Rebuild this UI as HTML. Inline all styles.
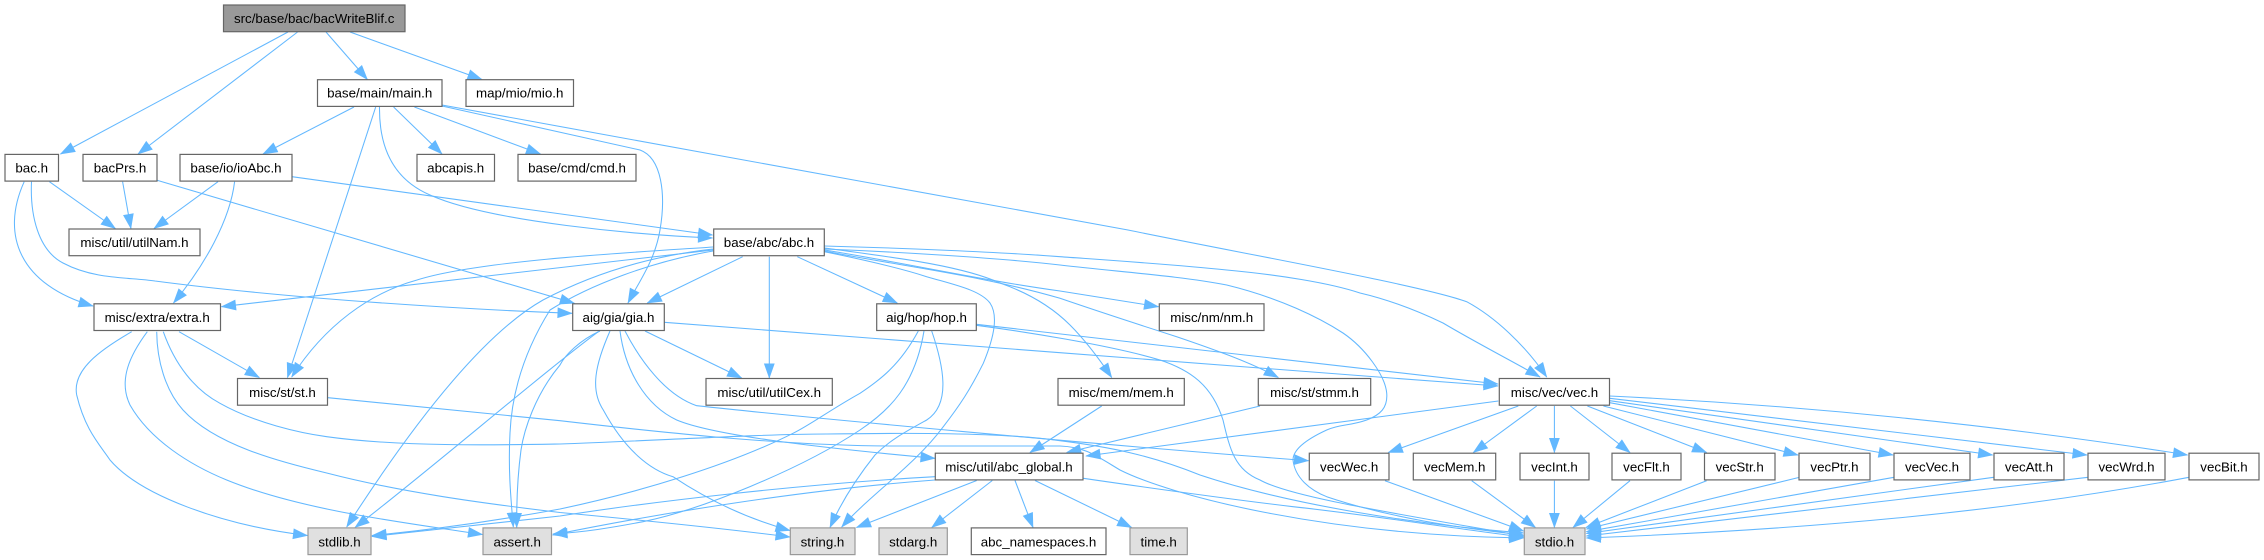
<!DOCTYPE html>
<html><head><meta charset="utf-8"><style>
html,body{margin:0;padding:0;background:#fff}
svg{display:block}
.e path{fill:none;stroke:#63b8ff;stroke-width:1.05;marker-end:url(#a)}
.n rect{fill:#fff;stroke:#666;stroke-width:1.2}
.s rect{fill:#e0e0e0;stroke:#999;stroke-width:1.2}
text{font-family:"Liberation Sans",Arial,sans-serif;font-size:13.33px;text-anchor:middle;fill:#000}
</style></head><body>
<svg width="2264" height="560" viewBox="0 0 2264 560" xmlns="http://www.w3.org/2000/svg">
<defs><marker id="a" markerUnits="userSpaceOnUse" markerWidth="18" markerHeight="14" refX="15" refY="7" orient="auto"><polygon points="1,2.3 14.3,7 1,11.7" fill="#63b8ff" stroke="#63b8ff" stroke-width="1"/></marker></defs>
<g class="e">
<path d="M288,32 L60.5,154"/>
<path d="M297.6,32 L138,154"/>
<path d="M326,32 L367.4,79.5"/>
<path d="M350,32 L482,79.5"/>
<path d="M354,107 L263,154"/>
<path d="M393.6,107 L442,154"/>
<path d="M414.4,107 L540.5,154"/>
<path d="M375.7,107 L287.5,377.5"/>
<path d="M379.5,107 C379,150 395,180 430,195 C490,222 640,235 712.5,238"/>
<path d="M442,106 L640,150 C662,158 666,195 660,230 C655,260 640,280 628,303"/>
<path d="M442,105 L1128,230 C1250,255 1420,285 1466.7,301.7 C1495,317 1525,345 1546.7,377"/>
<path d="M218,181.7 L154,228.5"/>
<path d="M234.6,181.7 C230,220 205,265 173.5,303"/>
<path d="M292,176.7 L712.5,235"/>
<path d="M49.4,181.7 L115.4,228.5"/>
<path d="M122.6,181.7 L130.9,228.5"/>
<path d="M157,180.3 L574.4,303.3"/>
<path d="M24.2,181.7 C0,235 20,285 93,306"/>
<path d="M31.5,181.7 C30,215 38,250 63,263 C95,280 130,277 155,281 C300,300 480,310 572,313.3"/>
<path d="M824.5,246 C900,248 1000,252 1060,256.7 C1120,261 1180,265 1226.7,270 C1280,275 1330,283 1360,293 C1390,300 1420,312 1443,323 C1475,342 1510,360 1540,377"/>
<path d="M824.5,249 C900,252 1000,258 1060,265 C1120,272 1180,276 1226.7,285 C1280,298 1320,318 1343,333 C1365,348 1385,375 1386.7,393 C1388,408 1380,415 1366.7,420 C1350,426 1340,424 1326.7,430 C1305,440 1293,450 1293,460 C1295,478 1310,490 1326.7,496.7 C1390,518 1460,528 1523.5,535"/>
<path d="M713,247 C640,252 480,260 417,280 C370,293 325,325 291.7,377"/>
<path d="M713,250 L221.5,306.7"/>
<path d="M713,249 C660,255 600,270 543,300 C490,330 425,405 346.7,527"/>
<path d="M713,251 C650,262 590,285 550,310 C525,350 512,390 510,433 C508,470 511,500 513.3,527"/>
<path d="M742.7,256.7 L647.3,303"/>
<path d="M769.3,256.7 L769.3,378"/>
<path d="M797.3,256.7 L897.3,303"/>
<path d="M824.5,251.7 C865,260 900,268 926.7,276.7 C955,285 980,290 990,303 C998,315 995,335 983.3,363.3 C970,390 960,405 943.3,426.7 C915,465 870,495 841.7,527"/>
<path d="M824.5,250 C900,262 980,280 1060,291 L1158.5,306.7"/>
<path d="M824.5,248 C890,257 960,265 1000,283 C1040,297 1060,315 1070,325 C1085,340 1100,360 1111.7,377.5"/>
<path d="M824.5,251 C900,266 980,275 1060,298.3 C1100,312 1140,325 1176.7,336.7 C1210,348 1250,362 1278.3,377.5"/>
<path d="M976.3,324.3 L1498,384"/>
<path d="M976.3,325.3 C1020,331 1110,345 1160,360 C1190,370 1212,385 1223,420 C1230,450 1235,470 1260,480 C1290,497 1393,513 1523.5,536"/>
<path d="M931.7,331 C945,370 950,405 926.7,420 C905,432 890,440 875,455 C855,480 840,505 830,527.5"/>
<path d="M924,331 C915,385 890,410 860,430 C800,470 700,510 643,521.7 C610,528 585,532 553,534"/>
<path d="M918.3,331 C900,365 880,380 860,393.3 C830,410 810,425 793,433.3 C730,465 640,492 560,509 C500,520 430,530 372,535.5"/>
<path d="M935,476.7 C800,484 650,502 560,516 L372,536.5"/>
<path d="M935,480 C800,490 650,515 552.6,535"/>
<path d="M976.7,480.5 L856.5,527.5"/>
<path d="M992.3,480.5 L931.7,527.5"/>
<path d="M1015,480.5 L1033,527.5"/>
<path d="M1035,480.5 L1131.7,527.5"/>
<path d="M1083.3,478.3 C1150,488 1220,498 1293,506.7 C1370,515 1450,528 1523.5,537"/>
<path d="M328,397.7 L560,420.7 C640,430 780,446 893,446 L1060,446 C1085,447 1095,455 1120,470 C1170,495 1320,535 1523.5,538"/>
<path d="M625,331 C640,360 665,395 696.7,405.7 C800,417 1100,445 1308.5,460.7"/>
<path d="M620,331 C625,370 645,405 676.7,420 C710,434 800,446 935,458.3"/>
<path d="M163.3,331.7 C175,365 195,390 220,403.3 C255,423 300,433 326.7,436.7 C400,447 500,445 560,444 C650,441 760,434 826.7,434 C900,433 1000,432 1060,440.7 C1110,447 1150,455 1200,475 C1290,505 1420,525 1523.5,533"/>
<path d="M179,331.7 L259.3,377.5"/>
<path d="M131.7,331.7 C100,350 72,370 76.7,395 C85,430 100,445 110,460 C140,495 220,525 307.5,535.5"/>
<path d="M147.3,331.7 C130,355 118,380 130,405 C150,440 190,465 226.7,480 C300,510 400,522 482.5,534.5"/>
<path d="M156.7,331.7 C157,360 165,390 183,410 C215,445 280,462 326.7,473 C400,492 480,503 560,512.5 C640,520 720,528 790,537"/>
<path d="M610,331 C595,365 590,390 603.3,410 C625,450 650,470 673,476.7 C705,498 745,518 790,530.5"/>
<path d="M598.3,331.7 C540,375 430,470 355,527.5"/>
<path d="M600,331 C580,340 565,355 560,365 C535,395 524,430 521,450 C517,480 516.5,505 516.7,527.5"/>
<path d="M645,331 L741.7,378"/>
<path d="M664.3,322.3 L1060,352.7 C1180,362 1350,375 1498,386"/>
<path d="M1498.3,401 L1086,456"/>
<path d="M1101.7,406 L1030,452.5"/>
<path d="M1260,406 L1066.7,452.5"/>
<path d="M1518.3,406 L1388.3,452.5"/>
<path d="M1536.7,406 L1473.3,452.5"/>
<path d="M1554.4,406 L1554.4,452.5"/>
<path d="M1570.4,406 L1630,452.5"/>
<path d="M1587.4,406 L1706.6,452.5"/>
<path d="M1603.4,406 L1798,455"/>
<path d="M1609.7,402.7 L1893,455"/>
<path d="M1609.7,400.7 L1992.6,455"/>
<path d="M1609.7,398.3 L2087,455"/>
<path d="M1609.7,396 C1800,405 2000,425 2187.5,455"/>
<path d="M1385,480.7 L1523.5,531"/>
<path d="M1471.7,480.7 L1535.5,527.5"/>
<path d="M1554.4,480.7 L1554.4,527.5"/>
<path d="M1630,480.7 L1573,527.5"/>
<path d="M1706.6,480.7 L1586,527.5"/>
<path d="M1799.7,477.3 L1586.4,529"/>
<path d="M1894,477.3 L1586.4,531.7"/>
<path d="M1993.6,477.3 L1586.4,533.5"/>
<path d="M2088,477.3 L1586.4,536"/>
<path d="M2189,477.3 C2000,513 1800,530 1586.4,538"/>
</g>
<g class="n">
<rect x="223.5" y="5" width="181.5" height="26.7" style="fill:#999"/><text x="314.2" y="23">src/base/bac/bacWriteBlif.c</text>
<rect x="317.5" y="79.7" width="124.5" height="26.7"/><text x="379.7" y="97.7">base/main/main.h</text>
<rect x="466" y="79.7" width="107.5" height="26.7"/><text x="519.7" y="97.7">map/mio/mio.h</text>
<rect x="5" y="154.4" width="53.5" height="26.7"/><text x="31.7" y="172.4">bac.h</text>
<rect x="83" y="154.4" width="74" height="26.7"/><text x="120" y="172.4">bacPrs.h</text>
<rect x="180" y="154.4" width="112" height="26.7"/><text x="236" y="172.4">base/io/ioAbc.h</text>
<rect x="417" y="154.4" width="77.5" height="26.7"/><text x="455.7" y="172.4">abcapis.h</text>
<rect x="518" y="154.4" width="118" height="26.7"/><text x="577" y="172.4">base/cmd/cmd.h</text>
<rect x="69" y="229" width="131" height="26.7"/><text x="134.5" y="247">misc/util/utilNam.h</text>
<rect x="713.7" y="229" width="110.6" height="26.7"/><text x="769" y="247">base/abc/abc.h</text>
<rect x="94" y="303.8" width="126.5" height="26.7"/><text x="157.2" y="322">misc/extra/extra.h</text>
<rect x="572.7" y="303.8" width="91.6" height="26.7"/><text x="618.5" y="322">aig/gia/gia.h</text>
<rect x="876.7" y="303.8" width="99.6" height="26.7"/><text x="926.5" y="322">aig/hop/hop.h</text>
<rect x="1159.3" y="303.8" width="104.7" height="26.7"/><text x="1211.7" y="322">misc/nm/nm.h</text>
<rect x="237.5" y="378.5" width="90" height="26.7"/><text x="282.5" y="396.8">misc/st/st.h</text>
<rect x="706" y="378.5" width="126.3" height="26.7"/><text x="769.2" y="396.8">misc/util/utilCex.h</text>
<rect x="1058" y="378.5" width="126.3" height="26.7"/><text x="1121.2" y="396.8">misc/mem/mem.h</text>
<rect x="1258.3" y="378.5" width="112.4" height="26.7"/><text x="1314.5" y="396.8">misc/st/stmm.h</text>
<rect x="1499.3" y="378.5" width="110.2" height="26.7"/><text x="1554.5" y="396.8">misc/vec/vec.h</text>
<rect x="935.3" y="453.2" width="147.7" height="26.7"/><text x="1009" y="471.5">misc/util/abc_global.h</text>
<rect x="1309.3" y="453.2" width="79.7" height="26.7"/><text x="1349.2" y="471.5">vecWec.h</text>
<rect x="1413.3" y="453.2" width="82.4" height="26.7"/><text x="1454.7" y="471.5">vecMem.h</text>
<rect x="1520" y="453.2" width="69" height="26.7"/><text x="1554.5" y="471.5">vecInt.h</text>
<rect x="1612" y="453.2" width="69" height="26.7"/><text x="1646.5" y="471.5">vecFlt.h</text>
<rect x="1704.5" y="453.2" width="70.5" height="26.7"/><text x="1739.7" y="471.5">vecStr.h</text>
<rect x="1799" y="453.2" width="71" height="26.7"/><text x="1834.5" y="471.5">vecPtr.h</text>
<rect x="1894" y="453.2" width="76" height="26.7"/><text x="1932" y="471.5">vecVec.h</text>
<rect x="1994" y="453.2" width="70" height="26.7"/><text x="2029" y="471.5">vecAtt.h</text>
<rect x="2088" y="453.2" width="77" height="26.7"/><text x="2126.5" y="471.5">vecWrd.h</text>
<rect x="2189" y="453.2" width="70" height="26.7"/><text x="2224" y="471.5">vecBit.h</text>
<rect x="971.3" y="527.9" width="134.7" height="26.7"/><text x="1038.5" y="546.3">abc_namespaces.h</text>
</g>
<g class="s">
<rect x="308" y="527.9" width="63" height="26.7"/><text x="339.5" y="546.3">stdlib.h</text>
<rect x="483" y="527.9" width="68.5" height="26.7"/><text x="517.2" y="546.3">assert.h</text>
<rect x="790.3" y="527.9" width="64.7" height="26.7"/><text x="822.5" y="546.3">string.h</text>
<rect x="879" y="527.9" width="68.3" height="26.7"/><text x="913.2" y="546.3">stdarg.h</text>
<rect x="1130" y="527.9" width="57.3" height="26.7"/><text x="1158.7" y="546.3">time.h</text>
<rect x="1524.3" y="527.9" width="60.7" height="26.7"/><text x="1554.5" y="546.3">stdio.h</text>
</g>
</svg>
</body></html>
